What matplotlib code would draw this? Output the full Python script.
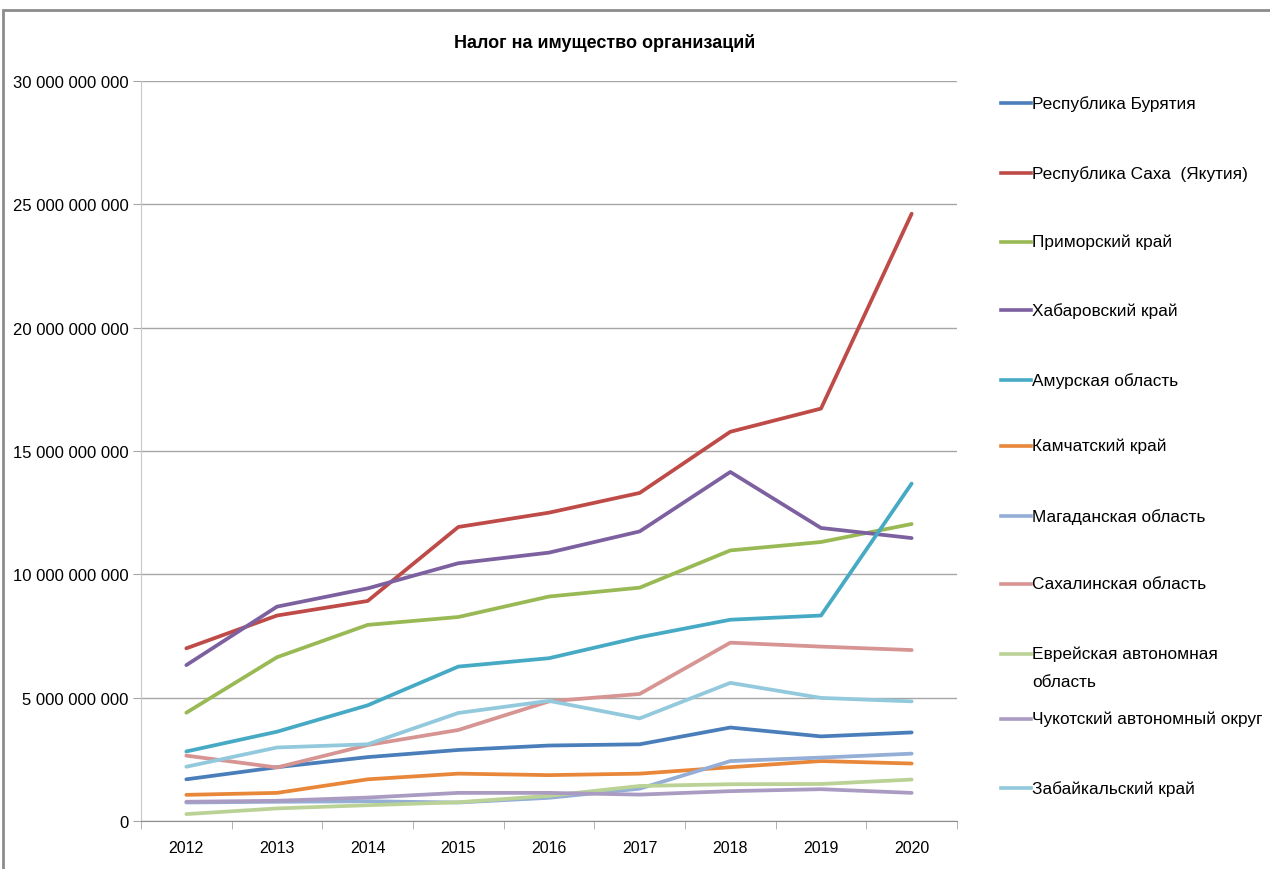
import matplotlib
matplotlib.use("Agg")
import matplotlib.pyplot as plt
from matplotlib.lines import Line2D
from matplotlib.patches import Rectangle
from matplotlib.ticker import FuncFormatter, FixedLocator

years = ["2012", "2013", "2014", "2015", "2016", "2017", "2018", "2019", "2020"]

# values in billions of rubles
buryatia   = [1.69, 2.18, 2.59, 2.88, 3.06, 3.11, 3.79, 3.43, 3.59]
sakha      = [7.00, 8.33, 8.92, 11.92, 12.50, 13.30, 15.78, 16.72, 24.62]
primorsky  = [4.39, 6.64, 7.95, 8.27, 9.10, 9.46, 10.97, 11.31, 12.04]
khabarovsk = [6.32, 8.69, 9.43, 10.45, 10.88, 11.74, 14.15, 11.88, 11.47]
amur       = [2.82, 3.62, 4.69, 6.26, 6.60, 7.45, 8.16, 8.33, 13.68]
kamchatka  = [1.06, 1.14, 1.69, 1.92, 1.86, 1.92, 2.18, 2.43, 2.33]
magadan    = [0.75, 0.78, 0.80, 0.75, 0.94, 1.31, 2.43, 2.57, 2.73]
sakhalin   = [2.65, 2.17, 3.08, 3.69, 4.85, 5.15, 7.23, 7.07, 6.93]
evrei      = [0.28, 0.51, 0.64, 0.76, 1.02, 1.42, 1.49, 1.50, 1.68]
chukotka   = [0.78, 0.82, 0.95, 1.14, 1.14, 1.07, 1.21, 1.29, 1.14]
zabaikal   = [2.20, 2.98, 3.11, 4.38, 4.87, 4.16, 5.60, 4.99, 4.85]

series = [
    ("Республика Бурятия", buryatia, "#4A7EBB"),
    ("Республика Саха  (Якутия)", sakha, "#BE4B48"),
    ("Приморский край", primorsky, "#98B954"),
    ("Хабаровский край", khabarovsk, "#7D60A0"),
    ("Амурская область", amur, "#46AAC5"),
    ("Камчатский край", kamchatka, "#E8873A"),
    ("Магаданская область", magadan, "#94AED6"),
    ("Сахалинская область", sakhalin, "#D69492"),
    ("Еврейская автономная\nобласть", evrei, "#BBD296"),
    ("Чукотский автономный округ", chukotka, "#AA9BC2"),
    ("Забайкальский край", zabaikal, "#93C9DC"),
]

plt.rcParams["font.family"] = ["Liberation Sans", "DejaVu Sans"]

fig = plt.figure(figsize=(12.7, 8.7), dpi=100)
W, H = 1270, 870
ax = fig.add_axes([141 / W, 1 - 822 / H, (957 - 141) / W, (822 - 82) / H])

# outer chart border
fig.patches.append(Rectangle((3 / W, -0.05), 1.1, 1 - 11 / H + 0.05,
                             transform=fig.transFigure, fill=False,
                             edgecolor="#8c8c8c", lw=2.0))

x = list(range(len(years)))
for name, vals, col in series:
    ax.plot(x, [v * 1e9 for v in vals], color=col, lw=2.7,
            solid_capstyle="round", solid_joinstyle="round")

ax.set_xlim(-0.5, len(years) - 0.5)
ax.set_ylim(0, 30e9)
ax.yaxis.set_major_locator(FixedLocator([i * 5e9 for i in range(7)]))
ax.yaxis.set_major_formatter(FuncFormatter(
    lambda v, p: f"{int(round(v)):,}".replace(",", " ")))
ax.grid(axis="y", color="#a6a6a6", lw=1.0)
ax.set_axisbelow(True)

ax.set_xticks(x)
ax.set_xticklabels(years)
ax.set_xticks([i - 0.5 for i in range(len(years) + 1)], minor=True)
ax.tick_params(axis="x", which="major", length=0, pad=14, labelsize=11.5)
ax.tick_params(axis="x", which="minor", length=6, color="#a6a6a6", direction="out")
ax.tick_params(axis="y", length=6, color="#a6a6a6", pad=3, labelsize=12)

for s in ("top", "right"):
    ax.spines[s].set_visible(False)
ax.spines["bottom"].set_color("#8c8c8c")
ax.spines["left"].set_color("#c8c8c8")

fig.text(605 / W, 1 - 43 / H, "Налог на имущество организаций",
         ha="center", va="center", fontsize=13, fontweight="bold")

# legend, placed by hand like the Excel original
leg_y = [104, 174, 243, 311, 381, 447, 517, 585, 655, 720, 789]
for (name, vals, col), yy in zip(series, leg_y):
    fy = 1 - yy / H
    fig.lines.append(Line2D([1001 / W, 1031 / W], [fy, fy], color=col, lw=2.6,
                            transform=fig.transFigure))
    fig.text(1032 / W, fy + 8 / H, name, ha="left", va="top", fontsize=12.4,
             linespacing=2.05)

fig.savefig("out.png", dpi=100)
